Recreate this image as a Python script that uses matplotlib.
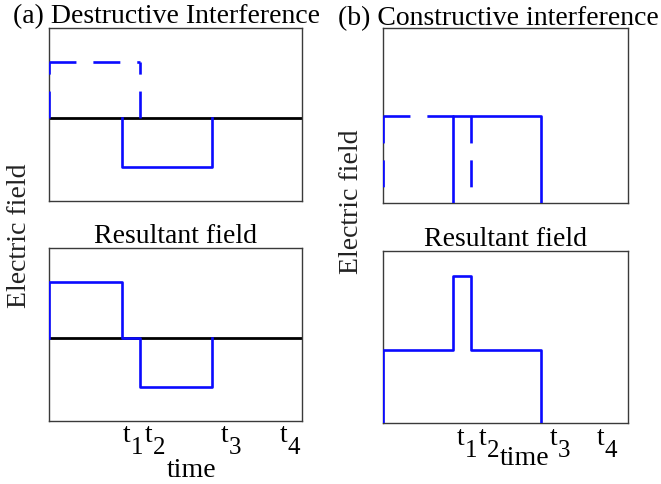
import matplotlib
matplotlib.use("Agg")
import matplotlib.pyplot as plt

plt.rcParams['font.family'] = ['Liberation Serif', 'DejaVu Serif']
plt.rcParams['lines.scale_dashes'] = False

# pulse timing (time axis runs 0..7)
t_edges = [2.0, 2.5, 4.5]          # t1, t2, t3
t_names = ['1', '2', '3', '4']
t_max = 7.0

# (a) destructive: first pulse 0..t2 (dashed), second pulse t1..t3 (solid)
amp_a_first = 1.15
amp_a_second = -1.0
resultant_a = [1.15, 0.0, -1.0]     # levels on [0,t1], [t1,t2], [t2,t3]

# (b) constructive
amp_b_first = 1.0
amp_b_second = 1.0
resultant_b = [1.0, 2.0, 1.0]

# where the t-labels sit along the time axis
label_x_a = [2.04, 2.65, 4.74, 6.37]
label_x_b = [2.10, 2.72, 4.76, 6.10]

BLUE = '#0a0aff'
LW = 1.9
DASH = (19.4, 12.2)


def style_axes(ax, ylim):
    ax.set_xlim(0, t_max)
    ax.set_ylim(*ylim)
    ax.set_xticks([])
    ax.set_yticks([])
    for s in ax.spines.values():
        s.set_linewidth(1.0)
        s.set_color('#3a3a3a')


def dashed_pulse(ax, start, end, amp, downward):
    # each edge is its own dashed segment
    if downward:
        verts = [((start, amp), (start, 0)), ((start, amp), (end, amp)), ((end, amp), (end, 0))]
    else:
        verts = [((start, 0), (start, amp)), ((start, amp), (end, amp)), ((end, 0), (end, amp))]
    for (x0, y0), (x1, y1) in verts:
        ax.plot([x0, x1], [y0, y1], color=BLUE, lw=LW, dashes=DASH, zorder=3)


def solid_pulse(ax, start, end, amp):
    ax.plot([start, start, end, end], [0, amp, amp, 0], color=BLUE, lw=LW, zorder=3)


def resultant(ax, levels):
    xs = [0.0] + t_edges
    px, py = [0.0], [0.0]
    for i, v in enumerate(levels):
        px += [xs[i], xs[i + 1]]
        py += [v, v]
    px.append(xs[-1])
    py.append(0.0)
    ax.plot(px, py, color=BLUE, lw=LW, zorder=3)


def t_labels(ax, xpos, drop_px):
    for x, n in zip(xpos, t_names):
        ax.annotate('t', xy=(x, 0), xycoords=('data', 'axes fraction'),
                    xytext=(0, -drop_px * 0.72), textcoords='offset points',
                    ha='left', va='baseline', fontsize=20)
        ax.annotate(n, xy=(x, 0), xycoords=('data', 'axes fraction'),
                    xytext=(8 * 0.72, -(drop_px + 12) * 0.72), textcoords='offset points',
                    ha='left', va='baseline', fontsize=18)


fig = plt.figure(figsize=(6.61, 4.85), dpi=100)

ax_a1 = fig.add_axes([0.0746, 0.584, 0.383, 0.3555])
ax_a2 = fig.add_axes([0.0746, 0.1305, 0.383, 0.3555])
ax_b1 = fig.add_axes([0.580, 0.5794, 0.3707, 0.3602])
ax_b2 = fig.add_axes([0.580, 0.1258, 0.3707, 0.354])

ylim_a = (-1.7, 1.85)

# (a) top: the two pulses
style_axes(ax_a1, ylim_a)
ax_a1.axhline(0, color='black', lw=2.0, zorder=2)
dashed_pulse(ax_a1, 0.0, t_edges[1], amp_a_first, downward=False)
solid_pulse(ax_a1, t_edges[0], t_edges[2], amp_a_second)

# (a) bottom: resultant
style_axes(ax_a2, ylim_a)
ax_a2.axhline(0, color='black', lw=2.0, zorder=2)
resultant(ax_a2, resultant_a)
ax_a2.set_title('Resultant field', fontsize=20, pad=4.5)
t_labels(ax_a2, label_x_a, 20)

# (b) top
style_axes(ax_b1, (0, 2.0))
dashed_pulse(ax_b1, 0.0, t_edges[1], amp_b_first, downward=True)
solid_pulse(ax_b1, t_edges[0], t_edges[2], amp_b_second)

# (b) bottom
style_axes(ax_b2, (0, 2.34))
resultant(ax_b2, resultant_b)
ax_b2.set_title('Resultant field', fontsize=20, pad=4.5)
t_labels(ax_b2, label_x_b, 21)

fig.text(13 / 661, 1 - 23 / 485, '(a) Destructive Interference', fontsize=20,
         ha='left', va='baseline')
fig.text(338 / 661, 1 - 25 / 485, '(b) Constructive interference', fontsize=20,
         ha='left', va='baseline')

fig.text(20 / 661, 1 - 236 / 485, 'Electric field', fontsize=20, rotation=90,
         ha='center', va='center', color='#222222')
fig.text(352 / 661, 1 - 201.5 / 485, 'Electric field', fontsize=20, rotation=90,
         ha='center', va='center', color='#222222')

fig.text(192 / 661, 1 - 477 / 485, 'time', fontsize=20, ha='center', va='baseline')
fig.text(525 / 661, 1 - 465 / 485, 'time', fontsize=20, ha='center', va='baseline')

fig.savefig('out.png', dpi=100)
